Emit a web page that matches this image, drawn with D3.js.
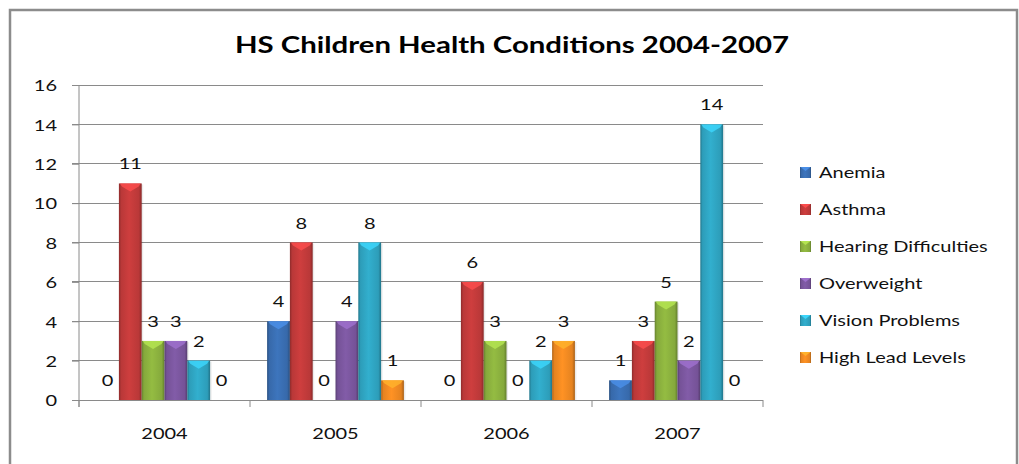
<!DOCTYPE html>
<html><head><meta charset="utf-8">
<script src="https://cdn.jsdelivr.net/npm/d3@7"></script>
<style>
html,body{margin:0;padding:0;background:#fff;}
svg{display:block;font-family:Lato,"Open Sans",sans-serif;}
</style></head>
<body><svg id="c" width="1019" height="464"></svg>
<script>
const title = "HS Children Health Conditions 2004-2007";
const years = ["2004","2005","2006","2007"];
const series = ["Anemia","Asthma","Hearing Difficulties","Overweight","Vision Problems","High Lead Levels"];
const anemia     = [0, 4, 0, 1];
const asthma     = [11, 8, 6, 3];
const hearing    = [3, 0, 3, 5];
const overweight = [3, 4, 0, 2];
const vision     = [2, 8, 2, 14];
const lead       = [0, 1, 3, 0];
const yTicks = [0,2,4,6,8,10,12,14,16];
const colors = ["#3a6fb3","#c33b3b","#8cb23f","#7b579f","#2fa6c3","#f28a22"];
const values = [anemia, asthma, hearing, overweight, vision, lead];

(function(){
const SX = 1.25; // horizontal glyph stretch
const FS = 16;
const TXT = "#111";
const svg = d3.select("#c");
const pLeft = 79, pRight = 763, pTop = 85, pBottom = 400;

// border
svg.append("rect").attr("x",10).attr("y",10).attr("width",1007).attr("height",470)
  .attr("fill","#fff").attr("stroke","#8c8c8c").attr("stroke-width",2.5);

const defs = svg.append("defs");
colors.forEach((c,i)=>{
  const g = defs.append("linearGradient").attr("id","g"+i).attr("x1",0).attr("x2",1).attr("y1",0).attr("y2",0);
  const base = d3.color(c);
  g.append("stop").attr("offset","0%").attr("stop-color",base.darker(0.9));
  g.append("stop").attr("offset","10%").attr("stop-color",base.darker(0.15));
  g.append("stop").attr("offset","45%").attr("stop-color",base.brighter(0.15));
  g.append("stop").attr("offset","88%").attr("stop-color",base.darker(0.15));
  g.append("stop").attr("offset","100%").attr("stop-color",base.darker(1.0));
});

const x0 = d3.scaleBand().domain(years).range([pLeft,pRight]).paddingInner(0).paddingOuter(0);
const x1 = d3.scaleBand().domain(series).range([0,x0.bandwidth()]).paddingInner(0).paddingOuter(0.75);
const y = d3.scaleLinear().domain([0,16]).range([pBottom,pTop]);

function stretchText(sel){
  sel.each(function(){
    const t = d3.select(this);
    const xx = +t.attr("x")||0, yy = +t.attr("y")||0;
    t.attr("x",0).attr("y",0).attr("transform",`translate(${xx},${yy}) scale(${SX},1)`);
  });
}

// gridlines
svg.append("g").selectAll("line").data(yTicks).join("line")
  .attr("x1",pLeft-7).attr("x2",pRight).attr("y1",d=>y(d)).attr("y2",d=>y(d))
  .attr("stroke","#8a8a8a").attr("stroke-width",1).attr("shape-rendering","crispEdges");

// y axis
const ya = svg.append("g").attr("transform",`translate(${pLeft},0)`)
  .call(d3.axisLeft(y).tickValues(yTicks).tickSize(7).tickPadding(0));
ya.select(".domain").attr("stroke","#8a8a8a").attr("d",`M0,${pTop}V${pBottom+7}`);
ya.selectAll(".tick line").attr("stroke","#8a8a8a");
ya.selectAll(".tick text").attr("x",-22).attr("dy","0.36em").attr("font-size",FS)
  .attr("font-family","Lato").attr("fill",TXT);
stretchText(ya.selectAll(".tick text"));

// x axis
const xa = svg.append("g").attr("transform",`translate(0,${pBottom})`)
  .call(d3.axisBottom(x0).tickSize(0).tickPadding(0));
xa.select(".domain").remove();
xa.selectAll(".tick text").attr("y",39).attr("dy",0).attr("font-size",FS)
  .attr("font-family","Lato").attr("fill",TXT);
stretchText(xa.selectAll(".tick text"));
svg.append("g").selectAll("line").data(d3.range(years.length+1)).join("line")
  .attr("x1",i=>pLeft+i*x0.step()).attr("x2",i=>pLeft+i*x0.step())
  .attr("y1",pBottom).attr("y2",pBottom+7).attr("stroke","#8a8a8a");

// bars
const data = [];
years.forEach((yr,j)=>series.forEach((s,i)=>data.push({yr,s,i,v:values[i][j]})));
const bars = svg.append("g");
const bw = x1.bandwidth();
data.forEach(d=>{
  const bx = x0(d.yr)+x1(d.s), by = y(d.v), bh = y(0)-y(d.v);
  if (bh>0){
    bars.append("rect").attr("x",bx+1.5).attr("y",by+1).attr("width",bw).attr("height",bh-1)
      .attr("fill","#000").attr("opacity",0.08);
    bars.append("rect").attr("x",bx).attr("y",by).attr("width",bw).attr("height",bh)
      .attr("fill",`url(#g${d.i})`);
    if (bh>8){
      const c = d3.color(colors[d.i]).brighter(0.7);
      bars.append("polygon")
        .attr("points",[[bx+1,by],[bx+bw-1,by],[bx+bw-3,by+3],[bx+bw/2,by+8],[bx+3,by+3]].map(p=>p.join(",")).join(" "))
        .attr("fill",c).attr("opacity",0.85);
    }
  }
  const t = svg.append("text").attr("x",bx+bw/2).attr("y",by-14)
    .attr("text-anchor","middle").attr("font-size",FS).attr("fill",TXT).text(d.v);
  stretchText(t);
});

// title
const tt = svg.append("text").attr("x",512).attr("y",53).attr("text-anchor","middle")
  .attr("font-size",23.5).attr("font-weight","bold").attr("fill","#000").text(title);
stretchText(tt);

// legend
const lg = svg.append("g");
series.forEach((s,i)=>{
  const cy = 172 + i*37;
  lg.append("rect").attr("x",800).attr("y",cy-5).attr("width",11).attr("height",11).attr("fill",`url(#g${i})`);
  lg.append("polygon").attr("points",`800.5,${cy-5} 810.5,${cy-5} 805.5,${cy-1}`).attr("fill",d3.color(colors[i]).brighter(0.7));
  const t = lg.append("text").attr("x",819).attr("y",cy+5.5).attr("font-size",FS).attr("fill",TXT).text(s);
  stretchText(t);
});
})();
</script></body></html>
